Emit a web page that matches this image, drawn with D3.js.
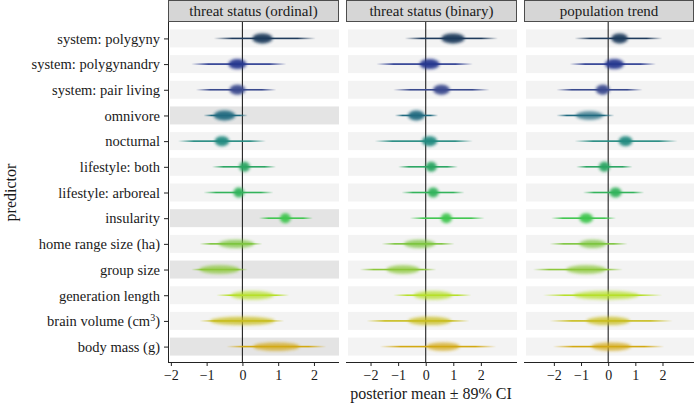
<!DOCTYPE html>
<html><head><meta charset="utf-8">
<script src="https://cdn.jsdelivr.net/npm/d3@7"></script>
<style>html,body{margin:0;padding:0;background:#fff;}svg{display:block;font-family:"Liberation Serif","Times New Roman",serif;}</style>
</head><body><svg id="c" width="695" height="405"></svg>
<script>
const predictors = ["system: polygyny","system: polygynandry","system: pair living","omnivore","nocturnal","lifestyle: both","lifestyle: arboreal","insularity","home range size (ha)","group size","generation length","brain volume (cm3)","body mass (g)"];
const colors = ["#1f3b5c","#26378f","#3a4a8e","#206b80","#248a80","#2aa562","#33b35b","#40c64f","#7cc53d","#8cc73a","#b6df2b","#c8bd1d","#d3a912"];
const panels = ["threat status (ordinal)","threat status (binary)","population trend"];
const xTicks = [-2,-1,0,1,2];

const ordinalMean   = [0.56,-0.14,-0.14,-0.50,-0.57,0.06,-0.10,1.20,-0.17,-0.64,0.28,0.00,0.95];
const ordinalLo     = [-0.80,-1.43,-1.30,-1.09,-1.80,-0.85,-1.09,0.46,-1.20,-1.43,-0.73,-1.20,-0.45];
const ordinalHi     = [2.05,1.23,0.95,0.15,0.66,0.94,0.87,1.97,0.56,0.15,1.31,1.17,2.35];
const ordinalSpread = [0.28,0.25,0.22,0.30,0.20,0.15,0.15,0.15,0.50,0.56,0.60,0.90,0.65];
const ordinalCredible = [false,false,false,true,false,false,false,true,false,true,false,false,true];

const binaryMean   = [0.99,0.14,0.57,-0.34,0.14,0.20,0.27,0.75,-0.22,-0.82,0.27,0.14,0.63];
const binaryLo     = [-0.76,-1.79,-1.18,-1.12,-1.85,-1.00,-0.88,-0.58,-1.60,-2.39,-1.18,-2.15,-1.67];
const binaryHi     = [2.62,1.71,2.32,0.45,1.71,1.17,1.41,2.14,1.05,0.39,1.66,1.59,2.56];
const binarySpread = [0.42,0.36,0.30,0.30,0.27,0.20,0.20,0.20,0.57,0.60,0.70,0.78,0.60];
const binaryCredible = [false,false,false,false,false,false,false,false,false,false,false,false,false];

const trendMean   = [0.42,0.23,-0.20,-0.69,0.64,-0.14,0.27,-0.81,-0.57,-0.81,-0.07,0.00,0.11];
const trendLo     = [-1.24,-1.42,-1.91,-1.91,-1.24,-1.18,-0.93,-2.10,-2.16,-2.77,-2.40,-2.16,-2.04];
const trendHi     = [2.00,1.76,1.27,0.23,2.56,0.90,1.33,0.29,0.72,0.54,2.00,2.38,2.07];
const trendSpread = [0.30,0.35,0.25,0.50,0.25,0.20,0.22,0.25,0.50,0.73,1.20,0.80,0.73];
const trendCredible = [false,false,false,false,false,false,false,false,false,false,false,false,false];

const xDomains = [[-2.08,2.70],[-2.89,3.31],[-3.10,3.16]];

const panelData = [
  {mean:ordinalMean, lo:ordinalLo, hi:ordinalHi, spread:ordinalSpread, cred:ordinalCredible},
  {mean:binaryMean, lo:binaryLo, hi:binaryHi, spread:binarySpread, cred:binaryCredible},
  {mean:trendMean, lo:trendLo, hi:trendHi, spread:trendSpread, cred:trendCredible}
];

const svg = d3.select("#c");
const yTop = 23, yBottom = 362;
const panelX = [[168,339],[346,517],[524,694]];
const y = d3.scalePoint().domain(predictors).range([yTop,yBottom]).padding(0.6);
const step = y.step();
const bandH = step*0.7;

const defs = svg.append("defs");
const f = defs.append("filter").attr("id","blur").attr("x","-50%").attr("y","-100%").attr("width","200%").attr("height","300%");
f.append("feGaussianBlur").attr("stdDeviation",1.5);

const FF = "Liberation Serif";

panelData.forEach((pd, p) => {
  const [x0,x1] = panelX[p];
  const x = d3.scaleLinear().domain(xDomains[p]).range([x0,x1]);
  const g = svg.append("g");
  g.selectAll("rect.band").data(predictors).join("rect")
    .attr("x", x0+2).attr("width", x1-x0-2)
    .attr("y", d => y(d)-bandH/2).attr("height", bandH)
    .attr("fill", (d,i) => pd.cred[i] ? "#e4e4e4" : "#f3f3f3");
  g.append("line").attr("x1",x(0)).attr("x2",x(0)).attr("y1",yTop-1).attr("y2",yBottom)
    .attr("stroke","#222").attr("stroke-width",1.1);
  predictors.forEach((d,i) => {
    const gid = "grad"+p+"_"+i;
    const gr = defs.append("linearGradient").attr("id",gid).attr("gradientUnits","userSpaceOnUse")
      .attr("x1",x(pd.lo[i])).attr("x2",x(pd.hi[i])).attr("y1",0).attr("y2",0);
    [[0,0],[0.18,1],[0.82,1],[1,0]].forEach(([o,a]) =>
      gr.append("stop").attr("offset",o).attr("stop-color",colors[i]).attr("stop-opacity",a));
    g.append("rect").attr("x",x(pd.lo[i])).attr("width",x(pd.hi[i])-x(pd.lo[i]))
      .attr("y",y(d)-0.8).attr("height",1.6).attr("fill","url(#"+gid+")");
    const rx = Math.max(5, x(pd.mean[i]+pd.spread[i]) - x(pd.mean[i]));
    g.append("ellipse").attr("cx",x(pd.mean[i])).attr("cy",y(d))
      .attr("rx",rx).attr("ry", rx>12 ? 4.2 : 5)
      .attr("fill",colors[i]).attr("opacity", rx>12 ? 0.75 : 0.95)
      .attr("filter","url(#blur)");
  });
  const ax = g.append("g").attr("transform",`translate(0,${yBottom})`)
    .call(d3.axisBottom(x).tickValues(xTicks).tickSize(4).tickSizeOuter(0).tickFormat(d => d<0 ? "\u2212"+Math.abs(d) : d));
  ax.select(".domain").attr("stroke","#222").attr("d",`M${x0},0.5H${x1}`);
  ax.selectAll(".tick line").attr("stroke","#222");
  ax.selectAll("text").attr("font-family",FF).attr("font-size","14px").attr("fill","#1a1a1a").attr("y",18).attr("dy",0);
  g.append("rect").attr("x",x0+0.5).attr("y",0.5).attr("width",x1-x0-1).attr("height",21)
    .attr("fill","#d6d6d6").attr("stroke","#4d4d4d").attr("stroke-width",1);
  g.append("text").attr("x",(x0+x1)/2).attr("y",16).attr("text-anchor","middle")
    .attr("font-family",FF).attr("font-size","15px").attr("fill","#1a1a1a").text(panels[p]);
});

const yax = svg.append("g").attr("transform",`translate(${panelX[0][0]},0)`)
  .call(d3.axisLeft(y).tickSize(4).tickSizeOuter(0));
yax.select(".domain").attr("stroke","#222").attr("d",`M0.5,${yTop-1}V${yBottom}`);
yax.selectAll(".tick line").attr("stroke","#222");
yax.selectAll("text").attr("font-family",FF).attr("font-size","14.5px").attr("fill","#1a1a1a").attr("x",-8).attr("dy","0.33em")
  .each(function(d){
    const t = d3.select(this);
    if (d.endsWith("(cm3)")) {
      t.text(null);
      t.append("tspan").text("brain volume (cm");
      t.append("tspan").attr("baseline-shift","super").attr("font-size","10px").text("3");
      t.append("tspan").text(")");
    }
  });

svg.append("text").attr("transform",`translate(16,${(yTop+yBottom)/2}) rotate(-90)`).attr("text-anchor","middle")
  .attr("font-family",FF).attr("font-size","16px").attr("fill","#1a1a1a").text("predictor");
svg.append("text").attr("x",(panelX[0][0]+panelX[2][1])/2).attr("y",399).attr("text-anchor","middle")
  .attr("font-family",FF).attr("font-size","16px").attr("fill","#1a1a1a").text("posterior mean \u00b1 89% CI");
</script></body></html>
